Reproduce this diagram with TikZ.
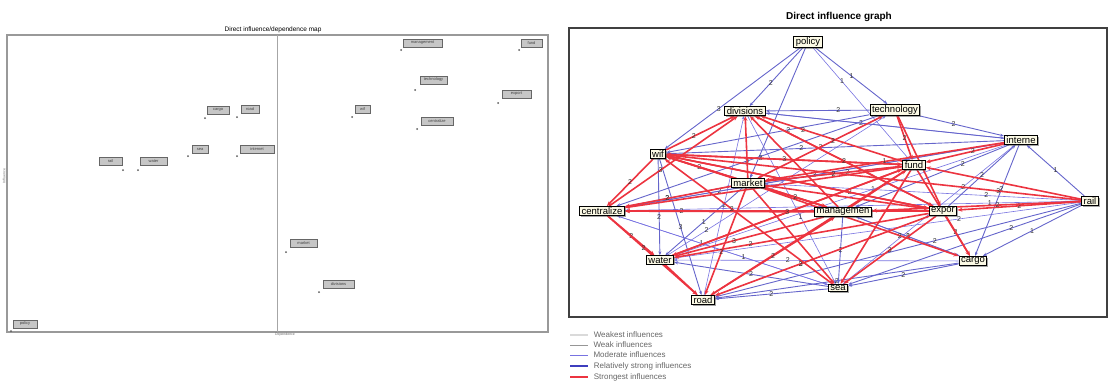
\documentclass[tikz,border=0pt]{standalone}
\usepackage{fontspec}
\setmainfont{Liberation Sans}
\usetikzlibrary{positioning,shadows,arrows.meta,backgrounds}

\definecolor{strongred}{RGB}{236,52,64}
\definecolor{relblue}{RGB}{62,62,190}
\definecolor{modblue}{RGB}{120,115,225}
\definecolor{weakgray}{RGB}{150,150,150}
\definecolor{weakestgray}{RGB}{218,218,218}
\definecolor{cream}{RGB}{252,250,230}

\tikzset{
  var/.style={draw=black, line width=1pt, fill=cream, font=\fontsize{9.5}{10}\selectfont,
    inner xsep=2pt, inner ysep=1pt, drop shadow={shadow xshift=1.2pt, shadow yshift=-1.2pt, fill=black!70}},
  mapbox/.style={draw=black!60, fill=gray!45, text=black!75, font=\fontsize{4}{4}\selectfont,
    minimum height=8pt, inner sep=0.5pt, drop shadow={shadow xshift=0.8pt, shadow yshift=-0.8pt, fill=black!50}},
  mapdot/.style={circle, fill=black!65, inner sep=0pt, minimum size=2pt},
  strongest/.style={draw=strongred, line width=1.6pt, -{Stealth[length=5pt,width=4pt]}},
  relstrong/.style={draw=relblue!80, line width=0.9pt, -{Stealth[length=4pt,width=3pt]}},
  moderate/.style={draw=modblue, line width=0.6pt, -{Stealth[length=3.5pt,width=3pt]}},
  num/.style={font=\fontsize{7}{7}\selectfont, text=black!80, inner sep=0.5pt},
  legendtext/.style={font=\fontsize{8}{8}\selectfont, text=black!60, anchor=west, inner sep=1pt}
}

\begin{document}
\begin{tikzpicture}[x=1pt,y=-1pt]
\useasboundingbox (0,0) rectangle (1113,386);

% direct influence / dependence map
\draw[gray!80, line width=1.2pt] (7,35) rectangle (548,332);
\draw[gray!70, line width=0.8pt] (277,35) -- (277,332);
\node[font=\fontsize{6.5}{7}\selectfont] (maptitle) at (273,30) {Direct influence/dependence map};
\node[font=\fontsize{3.5}{4}\selectfont, text=black!60, rotate=90] (yaxis) at (4,176) {Influence};
\node[font=\fontsize{3.5}{4}\selectfont, text=black!60] (xaxis) at (285,335) {Dependence};

\node[mapdot] (d1) at (205,118) {};
\node[mapbox, minimum width=22pt, above right=3pt and 1pt of d1] (m1) {cargo};
\node[mapdot] (d2) at (237,117) {};
\node[mapbox, minimum width=18pt, above right=3pt and 3pt of d2] (m2) {road};
\node[mapdot] (d3) at (188,156) {};
\node[mapbox, minimum width=16pt, above right=2pt and 3pt of d3] (m3) {sea};
\node[mapdot] (d4) at (237,156) {};
\node[mapbox, minimum width=34pt, above right=2pt and 2pt of d4] (m4) {internet};
\node[mapdot] (d5) at (123,170) {};
\node[mapbox, minimum width=23pt, above left=4pt and 0pt of d5] (m5) {rail};
\node[mapdot] (d6) at (138,170) {};
\node[mapbox, minimum width=27pt, above right=4pt and 1pt of d6] (m6) {water};
\node[mapdot] (d7) at (401,50) {};
\node[mapbox, minimum width=39pt, above right=2pt and 1pt of d7] (m7) {management};
\node[mapdot] (d8) at (519,50) {};
\node[mapbox, minimum width=21pt, above right=2pt and 1pt of d8] (m8) {fund};
\node[mapdot] (d9) at (415,90) {};
\node[mapbox, minimum width=27pt, above right=5pt and 4pt of d9] (m9) {technology};
\node[mapdot] (d10) at (498,103) {};
\node[mapbox, minimum width=29pt, above right=4pt and 3pt of d10] (m10) {export};
\node[mapdot] (d11) at (352,117) {};
\node[mapbox, minimum width=15pt, above right=3pt and 2pt of d11] (m11) {wif};
\node[mapdot] (d12) at (417,129) {};
\node[mapbox, minimum width=32pt, above right=3pt and 3pt of d12] (m12) {centralize};
\node[mapdot] (d13) at (286,252) {};
\node[mapbox, minimum width=27pt, above right=4pt and 3pt of d13] (m13) {market};
\node[mapdot] (d14) at (319,292) {};
\node[mapbox, minimum width=31pt, above right=3pt and 3pt of d14] (m14) {divisions};
\node[mapdot] (d15) at (11,331) {};
\node[mapbox, minimum width=24pt, above right=2pt and 1pt of d15] (m15) {policy};

% direct influence graph
\draw[black!75, line width=1.5pt] (569,28) rectangle (1107,317);
\node[font=\bfseries\fontsize{10}{11}\selectfont] (graphtitle) at (839,17) {Direct influence graph};

\node[var] (pol) at (808,42) {policy};
\node[var] (div) at (745,111) {divisions};
\node[var] (tech) at (895,110) {technology};
\node[var] (inet) at (1021,140) {interne};
\node[var] (wif) at (658,154) {wif};
\node[var] (mkt) at (748,183) {market};
\node[var] (fund) at (914,165) {fund};
\node[var] (cent) at (602,211) {centralize};
\node[var] (mgmt) at (843,212) {managemen};
\node[var] (exp) at (943,211) {expor};
\node[var] (rail) at (1090,201) {rail};
\node[var] (water) at (660,260) {water};
\node[var] (cargo) at (973,261) {cargo};
\node[var] (road) at (703,300) {road};
\node[var] (sea) at (838,288) {sea};

\begin{scope}[on background layer]
% moderate influences
\draw[moderate] (pol) -- node[num,pos=0.3]{1} (fund);
\draw[moderate] (div) -- node[num,pos=0.4]{2} (inet);
\draw[moderate] (tech) -- node[num,pos=0.5]{2} (mkt);
\draw[moderate] (inet) -- node[num,pos=0.3]{2} (sea);
\draw[moderate] (rail) -- node[num,pos=0.2]{1} (cent);
\draw[moderate] (rail) -- node[num,pos=0.3]{2} (water);
\draw[moderate] (cargo) -- node[num,pos=0.6]{2} (water);
\draw[moderate] (sea) -- node[num,pos=0.6]{1} (cent);
\draw[moderate] (road) -- node[num,pos=0.4]{2} (exp);
\draw[moderate] (div) -- node[num,pos=0.6]{1} (sea);
\draw[moderate] (cent) -- node[num,pos=0.25]{2} (inet);
\draw[moderate] (water) -- node[num,pos=0.18]{2} (tech);
\draw[moderate] (inet) -- node[num,pos=0.4]{1} (water);
\draw[moderate] (rail) -- node[num,pos=0.3]{2} (mkt);
\draw[moderate] (cargo) -- node[num,pos=0.5]{1} (mgmt);
\draw[moderate] (road) -- node[num,pos=0.5]{2} (div);
\draw[moderate] (cent) -- node[num,pos=0.6]{1} (sea);
% relatively strong influences
\draw[relstrong] (pol) -- node[num,pos=0.6]{2} (div);
\draw[relstrong] (pol) -- node[num,pos=0.5]{1} (tech);
\draw[relstrong] (pol) -- node[num,pos=0.6]{3} (wif);
\draw[relstrong] (pol) -- (mkt);
\draw[relstrong] (tech) -- node[num,pos=0.4]{2} (inet);
\draw[relstrong] (tech) -- node[num,pos=0.3]{2} (div);
\draw[relstrong] (tech) -- node[num,pos=0.4]{2} (wif);
\draw[relstrong] (tech) -- node[num,pos=0.5]{3} (cent);
\draw[relstrong] (inet) -- node[num,pos=0.6]{2} (wif);
\draw[relstrong] (inet) -- node[num,pos=0.5]{3} (cent);
\draw[relstrong] (inet) -- node[num,pos=0.3]{2} (mgmt);
\draw[relstrong] (inet) -- node[num,pos=0.4]{2} (cargo);
\draw[relstrong] (inet) -- (div);
\draw[relstrong] (exp) -- node[num,pos=0.5]{2} (inet);
\draw[relstrong] (rail) -- node[num,pos=0.5]{1} (cargo);
\draw[relstrong] (rail) -- node[num,pos=0.3]{2} (sea);
\draw[relstrong] (rail) -- node[num,pos=0.5]{1} (inet);
\draw[relstrong] (rail) -- node[num,pos=0.4]{2} (road);
\draw[relstrong] (cargo) -- node[num,pos=0.5]{2} (sea);
\draw[relstrong] (cargo) -- node[num,pos=0.5]{2} (road);
\draw[relstrong] (sea) -- node[num,pos=0.5]{2} (road);
\draw[relstrong] (sea) -- node[num,pos=0.5]{2} (water);
\draw[relstrong] (mgmt) -- node[num,pos=0.5]{2} (sea);
\draw[relstrong] (mgmt) -- node[num,pos=0.5]{3} (cargo);
\draw[relstrong] (wif) -- node[num,pos=0.6]{2} (water);
\draw[relstrong] (wif) -- node[num,pos=0.5]{3} (road);
\draw[relstrong] (mkt) -- node[num,pos=0.5]{1} (water);
\draw[relstrong] (cent) -- node[num,pos=0.4]{2} (mkt);
\draw[relstrong] (fund) -- node[num,pos=0.4]{2} (mkt);
% strongest influences
\draw[strongest] (wif) -- node[num,pos=0.4]{2} (div);
\draw[strongest] (mkt) -- (div);
\draw[strongest] (fund) -- node[num,pos=0.7]{2} (div);
\draw[strongest] (mgmt) -- (div);
\draw[strongest] (exp) -- (div);
\draw[strongest] (cent) -- node[num,pos=0.4]{3} (div);
\draw[strongest] (mkt) -- node[num,pos=0.5]{2} (wif);
\draw[strongest] (fund) -- node[num,pos=0.6]{3} (wif);
\draw[strongest] (mgmt) -- (wif);
\draw[strongest] (exp) -- node[num,pos=0.3]{2} (wif);
\draw[strongest] (rail) -- node[num,pos=0.2]{3} (wif);
\draw[strongest] (wif) -- node[num,pos=0.5]{2} (cent);
\draw[strongest] (fund) -- (cent);
\draw[strongest] (mgmt) -- node[num,pos=0.7]{2} (cent);
\draw[strongest] (exp) -- (cent);
\draw[strongest] (mkt) -- node[num,pos=0.6]{2} (cent);
\draw[strongest] (cent) -- node[num,pos=0.5]{2} (water);
\draw[strongest] (cent) -- node[num,pos=0.4]{2} (road);
\draw[strongest] (water) -- (road);
\draw[strongest] (mgmt) -- node[num,pos=0.6]{3} (water);
\draw[strongest] (exp) -- node[num,pos=0.7]{2} (water);
\draw[strongest] (fund) -- (water);
\draw[strongest] (mkt) -- node[num,pos=0.6]{2} (road);
\draw[strongest] (fund) -- (road);
\draw[strongest] (exp) -- node[num,pos=0.6]{3} (road);
\draw[strongest] (fund) -- (sea);
\draw[strongest] (exp) -- node[num,pos=0.5]{3} (sea);
\draw[strongest] (mkt) -- (sea);
\draw[strongest] (exp) -- node[num,pos=0.4]{2} (cargo);
\draw[strongest] (fund) -- (cargo);
\draw[strongest] (mkt) -- node[num,pos=0.7]{2} (cargo);
\draw[strongest] (rail) -- node[num,pos=0.5]{2} (exp);
\draw[strongest] (rail) -- (fund);
\draw[strongest] (rail) -- node[num,pos=0.4]{2} (mgmt);
\draw[strongest] (tech) -- node[num,pos=0.5]{2} (fund);
\draw[strongest] (inet) -- node[num,pos=0.4]{2} (fund);
\draw[strongest] (inet) -- node[num,pos=0.5]{1} (mkt);
\draw[strongest] (tech) -- (exp);
\draw[strongest] (mkt) -- node[num,pos=0.6]{2} (tech);
\draw[strongest] (wif) -- node[num,pos=0.5]{3} (fund);
\draw[strongest] (wif) -- node[num,pos=0.6]{3} (mgmt);
\draw[strongest] (wif) -- (exp);
\draw[strongest] (mkt) -- node[num,pos=0.5]{2} (fund);
\draw[strongest] (mkt) -- (exp);
\draw[strongest] (mkt) -- node[num,pos=0.5]{2} (mgmt);
\draw[strongest] (mgmt) -- (fund);
\draw[strongest] (div) -- node[num,pos=0.5]{2} (exp);
\draw[strongest] (road) -- node[num,pos=0.5]{2} (mgmt);
\draw[strongest] (water) -- node[num,pos=0.5]{3} (fund);
\draw[strongest] (sea) -- node[num,pos=0.6]{2} (wif);
\end{scope}

% legend
\coordinate (lg1) at (570,335);
\coordinate (lg2) at (570,345);
\coordinate (lg3) at (570,355);
\coordinate (lg4) at (570,366);
\coordinate (lg5) at (570,377);
\draw[weakestgray, line width=1.5pt] (lg1) -- ++(18,0) node[legendtext, right=4pt] {Weakest influences};
\draw[weakgray, line width=1pt] (lg2) -- ++(18,0) node[legendtext, right=4pt] {Weak influences};
\draw[modblue, line width=1pt] (lg3) -- ++(18,0) node[legendtext, right=4pt] {Moderate influences};
\draw[relblue, line width=1.8pt] (lg4) -- ++(18,0) node[legendtext, right=4pt] {Relatively strong influences};
\draw[strongred, line width=1.8pt] (lg5) -- ++(18,0) node[legendtext, right=4pt] {Strongest influences};
\end{tikzpicture}
\end{document}
